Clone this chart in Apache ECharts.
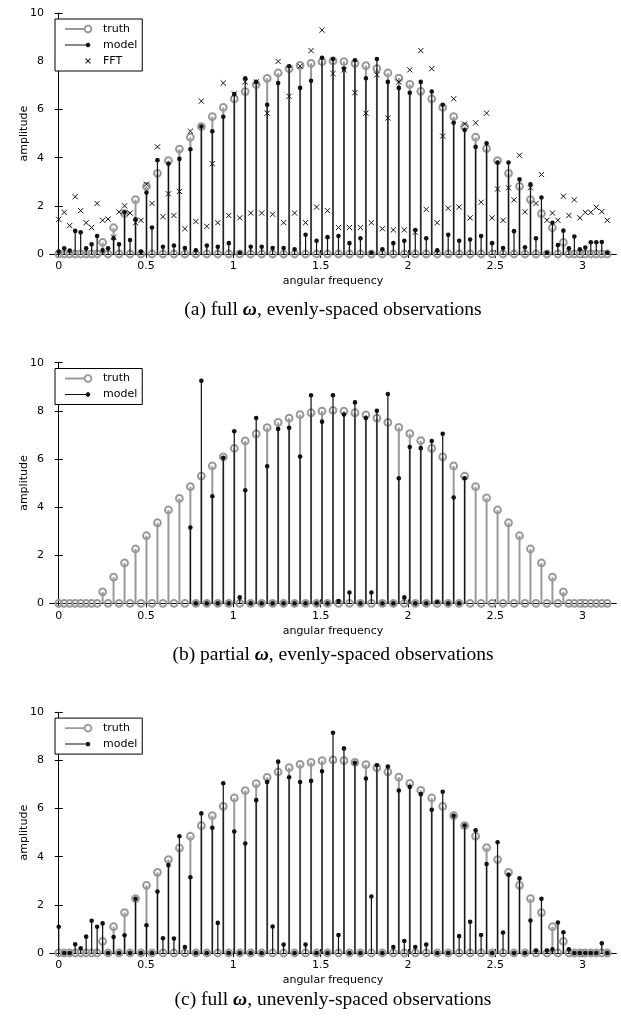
<!DOCTYPE html>
<html>
<head>
<meta charset="utf-8">
<script src="https://cdn.jsdelivr.net/npm/echarts@6/dist/echarts.min.js"></script>
<style>
html,body{margin:0;padding:0;background:#fff;}
#c{width:621px;height:1020px;}
</style>
</head>
<body>
<div id="c"></div>
<script>
// ---------------- data ----------------
// frequency grid: 101 evenly spaced angular frequencies on [0, pi]
const omega = Array.from({length: 101}, (_, k) => k * Math.PI / 100);
const xTicks = [0, 0.5, 1, 1.5, 2, 2.5, 3];
const yTicks = [0, 2, 4, 6, 8, 10];

// true amplitudes (same in all panels)
const truth = [
  0,0,0,0,0,0,0,0,0.48,0,
  1.09,0,1.68,0,2.26,0,2.81,0,3.35,0,
  3.88,0,4.36,0,4.85,0,5.29,0,5.71,0,
  6.09,0,6.44,0,6.75,0,7.04,0,7.30,0,
  7.52,0,7.70,0,7.84,0,7.92,0,7.99,0,
  8.02,0,7.99,0,7.92,0,7.83,0,7.70,0,
  7.52,0,7.31,0,7.05,0,6.76,0,6.44,0,
  6.09,0,5.71,0,5.29,0,4.85,0,4.38,0,
  3.88,0,3.35,0,2.81,0,2.26,0,1.68,0,
  1.09,0,0.48,0,0,0,0,0,0,0,
  0
];

// (a) full omega, evenly-spaced observations
const modelA = [
  0.10,0.24,0.14,0.96,0.90,0.24,0.40,0.75,0.15,0.24,
  0.65,0.40,1.73,0.58,1.44,0.10,2.55,1.10,3.90,0.30,
  3.75,0.35,3.95,0.25,4.35,0.15,5.30,0.35,5.10,0.30,
  5.70,0.45,6.65,0.05,7.30,0.30,7.15,0.30,6.20,0.25,
  7.10,0.25,7.80,0.20,6.90,0.80,7.20,0.55,8.15,0.70,
  8.10,0.75,7.70,0.45,8.05,0.65,7.30,0.05,8.10,0.20,
  7.15,0.45,6.90,0.55,6.70,1.00,7.15,0.65,6.75,0.15,
  6.20,0.80,5.45,0.55,5.15,0.60,4.45,0.75,4.60,0.45,
  3.80,0.25,3.80,0.95,3.10,0.28,2.90,0.65,2.35,0.05,
  1.30,0.37,0.97,0.24,0.73,0.20,0.27,0.49,0.49,0.50,
  0.05
];
const fftA = [
  1.44,1.73,1.18,2.38,1.80,1.30,1.10,2.10,1.40,1.45,
  0.70,1.75,2.00,1.70,1.30,1.40,2.90,2.10,4.45,1.55,
  2.50,1.60,2.60,1.05,5.10,1.35,6.35,1.15,3.75,1.30,
  7.10,1.60,6.65,1.50,7.15,1.70,7.15,1.70,5.85,1.65,
  8.00,1.30,6.55,1.70,7.80,1.30,8.45,1.95,9.30,1.80,
  7.50,1.10,7.65,1.10,6.70,1.10,5.85,1.30,7.45,1.05,
  5.65,1.00,7.15,1.00,7.65,0.90,8.45,1.85,7.70,1.30,
  4.90,1.90,6.45,1.95,5.40,1.50,5.45,2.15,5.85,1.50,
  2.70,1.40,2.75,2.25,4.10,1.75,2.75,2.10,3.30,1.40,
  1.70,1.40,2.40,1.60,2.25,1.50,1.73,1.73,1.94,1.76,
  1.40
];

// (b) partial omega: model only on indices 24..74
const modelB = [
  null,null,null,null,null,null,null,null,null,null,
  null,null,null,null,null,null,null,null,null,null,
  null,null,null,null,3.15,0,9.25,0,4.45,0,
  6.05,0,7.15,0.25,4.70,0,7.70,0,5.70,0,
  7.25,0,7.30,0,6.10,0,8.65,0,7.55,0,
  8.65,0.10,7.85,0.45,8.35,0,7.70,0.45,8.00,0,
  8.70,0,5.20,0.25,6.50,0,6.45,0,6.75,0.05,
  7.05,0,4.40,0,5.20,null,null,null,null,null,
  null,null,null,null,null,null,null,null,null,null,
  null,null,null,null,null,null,null,null,null,null,
  null
];

// (c) full omega, unevenly-spaced observations
const modelC = [
  1.09,0,0,0.36,0.20,0.68,1.34,1.09,1.23,0,
  0.66,0,0.74,0,2.25,0,1.15,0,2.55,0.61,
  3.65,0.60,4.85,0.25,3.15,0,5.80,0,5.20,1.25,
  7.05,0,5.05,0,4.55,0,6.35,0,7.10,1.10,
  7.95,0.35,7.30,0,7.10,0.35,7.15,0,7.55,0,
  9.15,0.75,8.50,0,7.90,0,7.25,2.35,7.80,0,
  7.75,0.25,6.75,0.50,6.90,0.25,6.60,0.35,5.95,0,
  6.70,0,5.70,0.70,5.30,1.30,5.10,0.75,3.70,0,
  4.60,0.85,3.25,0,3.10,0,1.35,0.10,2.25,0.10,
  0.15,1.27,0.86,0.15,0,0,0,0,0,0.40,
  0
];

const captions = [
  ['(a) full ', 'ω', ', evenly-spaced observations'],
  ['(b) partial ', 'ω', ', evenly-spaced observations'],
  ['(c) full ', 'ω', ', unevenly-spaced observations']
];

// ---------------- styling / layout ----------------
const GRAY = '#999999';
const BLACK = '#111111';
const SANS = 'DejaVu Sans';
const SERIF = 'Liberation Serif';
const FS = 11;
const gridTops = [13.3, 362.7, 712.3];
const gridH = 240.7;
const captionY = [310, 655, 1000];

function pts(arr) {
  const out = [];
  arr.forEach((v, k) => { if (v !== null && v !== undefined) out.push([omega[k], v]); });
  return out;
}

function makeRender(kind) {
  return function (params, api) {
    const x = api.value(0), y = api.value(1);
    const p0 = api.coord([x, 0]);
    const p1 = api.coord([x, y]);
    const ch = [];
    if (kind === 'truth') {
      if (y > 0) ch.push({type: 'line', shape: {x1: p0[0], y1: p0[1], x2: p1[0], y2: p1[1]},
        style: {stroke: GRAY, lineWidth: 2}});
      ch.push({type: 'circle', shape: {cx: p1[0], cy: p1[1], r: 3.4},
        style: {fill: 'none', stroke: GRAY, lineWidth: 2}});
    } else if (kind === 'model') {
      if (y > 0) ch.push({type: 'line', shape: {x1: p0[0], y1: p0[1], x2: p1[0], y2: p1[1]},
        style: {stroke: BLACK, lineWidth: 1.2}});
      ch.push({type: 'circle', shape: {cx: p1[0], cy: p1[1], r: 2.3},
        style: {fill: BLACK, stroke: null}});
    } else {
      const s = 2.6;
      ch.push({type: 'line', shape: {x1: p1[0] - s, y1: p1[1] - s, x2: p1[0] + s, y2: p1[1] + s},
        style: {stroke: BLACK, lineWidth: 1}});
      ch.push({type: 'line', shape: {x1: p1[0] - s, y1: p1[1] + s, x2: p1[0] + s, y2: p1[1] - s},
        style: {stroke: BLACK, lineWidth: 1}});
    }
    return {type: 'group', children: ch};
  };
}

// legend icons (box 33 x 10)
function poly(cx, cy, r, n, ccw) {
  let s = '';
  for (let i = 0; i <= n; i++) {
    const a = (ccw ? -1 : 1) * 2 * Math.PI * i / n;
    s += (i === 0 ? 'M' : 'L') + (cx + r * Math.cos(a)).toFixed(3) + ' ' + (cy + r * Math.sin(a)).toFixed(3) + ' ';
  }
  return s + 'Z ';
}
const corners = 'M0 0 L0.01 0 L0 0.01 Z M33 10 L32.99 10 L33 9.99 Z ';
const iconTruth = 'path://' + corners + 'M0 4.1 L19.6 4.1 L19.6 5.9 L0 5.9 Z ' + poly(23, 5, 4.3, 24, false) + poly(23, 5, 2.4, 24, true);
const iconModel = 'path://' + corners + 'M0 4.5 L22 4.5 L22 5.5 L0 5.5 Z ' + poly(23, 5, 2.3, 20, false);
const iconFFT = 'path://' + corners +
  'M20.2 2.9 L20.9 2.2 L25.8 7.1 L25.1 7.8 Z M20.2 7.1 L25.1 2.2 L25.8 2.9 L20.9 7.8 Z';

const grids = [], xAxes = [], yAxes = [], series = [], legends = [], graphics = [];
for (let g = 0; g < 3; g++) {
  grids.push({left: 50, width: 566, top: gridTops[g], height: gridH, containLabel: false});
  const axisLineStyle = {show: true, lineStyle: {color: '#000', width: 1}};
  xAxes.push({
    type: 'value', gridIndex: g, position: 'bottom', min: -0.05, max: Math.PI + 0.05,
    axisLine: axisLineStyle,
    axisTick: {show: true, inside: true, length: 4, customValues: xTicks, lineStyle: {color: '#000'}},
    axisLabel: {show: true, customValues: xTicks, margin: 7, color: '#000', fontFamily: SANS, fontSize: FS},
    splitLine: {show: false},
    name: 'angular frequency', nameLocation: 'middle', nameGap: 22, nameMoveOverlap: false,
    nameTextStyle: {color: '#000', fontFamily: SANS, fontSize: FS}
  });
  xAxes.push({
    type: 'value', gridIndex: g, position: 'top', min: -0.05, max: Math.PI + 0.05,
    axisLine: axisLineStyle,
    axisTick: {show: true, inside: true, length: 4, customValues: xTicks, lineStyle: {color: '#000'}},
    axisLabel: {show: false}, splitLine: {show: false}
  });
  yAxes.push({
    type: 'value', gridIndex: g, position: 'left', min: 0, max: 10, interval: 2,
    axisLine: axisLineStyle,
    axisTick: {show: true, inside: true, length: 4, lineStyle: {color: '#000'}},
    axisLabel: {show: true, margin: 6, color: '#000', fontFamily: SANS, fontSize: FS},
    splitLine: {show: false},
    name: 'amplitude', nameLocation: 'middle', nameGap: 20, nameRotate: 90, nameMoveOverlap: false,
    nameTextStyle: {color: '#000', fontFamily: SANS, fontSize: FS}
  });
  yAxes.push({
    type: 'value', gridIndex: g, position: 'right', min: 0, max: 10, interval: 2,
    axisLine: axisLineStyle,
    axisTick: {show: true, inside: true, length: 4, lineStyle: {color: '#000'}},
    axisLabel: {show: false}, splitLine: {show: false}
  });

  const ax = {xAxisIndex: 2 * g, yAxisIndex: 2 * g};
  series.push(Object.assign({type: 'custom', name: 'truth', data: pts(truth), clip: false,
    itemStyle: {color: GRAY}, renderItem: makeRender('truth'), z: 2}, ax));
  const m = [modelA, modelB, modelC][g];
  series.push(Object.assign({type: 'custom', name: 'model', data: pts(m), clip: false,
    itemStyle: {color: BLACK}, renderItem: makeRender('model'), z: 3}, ax));
  const legData = [{name: 'truth', icon: iconTruth}, {name: 'model', icon: iconModel}];
  if (g === 0) {
    series.push(Object.assign({type: 'custom', name: 'FFT', data: pts(fftA), clip: false,
      itemStyle: {color: BLACK}, renderItem: makeRender('fft'), z: 4}, ax));
    legData.push({name: 'FFT', icon: iconFFT});
  }
  legends.push({
    data: legData, orient: 'vertical', left: 55, top: gridTops[g] + (g === 0 ? 5.7 : 5.8),
    itemWidth: 33, itemHeight: 10, itemGap: 5, padding: [4.5, 5, 4.5, 10],
    borderColor: '#000', borderWidth: 1, backgroundColor: '#fff', borderRadius: 0,
    selectedMode: false,
    textStyle: {color: '#000', fontFamily: SANS, fontSize: FS}
  });

  const c = captions[g];
  graphics.push({
    type: 'text', x: 333, y: captionY[g],
    style: {
      text: c[0] + '{w|' + c[1] + '}' + c[2],
      align: 'center', verticalAlign: 'middle',
      font: '19.5px "' + SERIF + '"', fill: '#000',
      rich: {w: {fontFamily: SERIF, fontSize: 19.5, fontWeight: 'bold', fontStyle: 'italic', fill: '#000'}}
    }
  });
}

const chart = echarts.init(document.getElementById('c'), null, {renderer: 'canvas'});
chart.setOption({
  animation: false,
  backgroundColor: '#fff',
  grid: grids,
  xAxis: xAxes,
  yAxis: yAxes,
  legend: legends,
  series: series,
  graphic: graphics
});
</script>
</body>
</html>
